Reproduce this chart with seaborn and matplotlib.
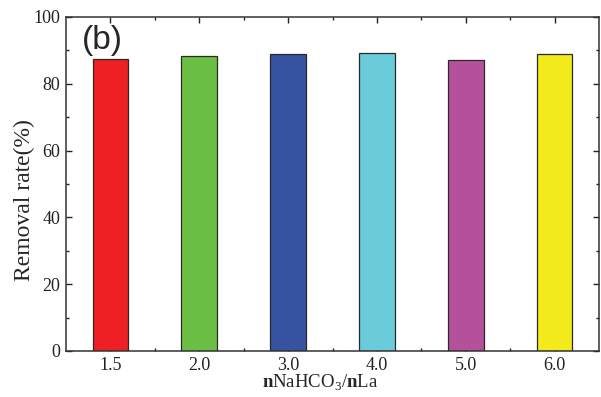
import pandas as pd
import matplotlib
matplotlib.use('Agg')
import matplotlib.pyplot as plt
import seaborn as sns
from matplotlib.ticker import MultipleLocator, FixedLocator

# data
ratios = ['1.5', '2.0', '3.0', '4.0', '5.0', '6.0']
removal = [87.4, 88.3, 89.0, 89.1, 87.2, 88.8]
colors = ['#EE2024', '#6CBF45', '#3752A1', '#6ACBDA', '#B5509B', '#F2EA1A']

sns.set_style('ticks')
plt.rcParams['font.family'] = ['Liberation Serif', 'DejaVu Serif']
plt.rcParams['mathtext.fontset'] = 'custom'
plt.rcParams['mathtext.rm'] = 'Liberation Serif'
plt.rcParams['mathtext.bf'] = 'Liberation Serif:bold'

df = pd.DataFrame({'ratio': ratios, 'removal': removal})

fig = plt.figure(figsize=(6.01, 3.97), dpi=100)
ax = fig.add_axes([0.1098, 0.1159, 0.887, 0.8413])

sns.barplot(data=df, x='ratio', y='removal', hue='ratio', palette=colors,
            width=0.4, edgecolor='#2a2a2a', linewidth=0.9, legend=False,
            saturation=1, ax=ax)

ax.set_xlim(-0.5, 5.5)
ax.set_ylim(0, 100)
ax.yaxis.set_major_locator(MultipleLocator(20))
ax.yaxis.set_minor_locator(MultipleLocator(10))
ax.xaxis.set_minor_locator(FixedLocator([0.5, 1.5, 2.5, 3.5, 4.5]))
ax.tick_params(which='both', direction='in', top=True, right=True,
               labelsize=13, colors='#222222', width=1)
ax.tick_params(which='major', length=4, pad=4)
ax.tick_params(which='minor', length=2.5)
for s in ax.spines.values():
    s.set_linewidth(1.1)
    s.set_color('#333333')
    s.set_visible(True)

ax.set_ylabel('Removal rate(%)', fontsize=17)
ax.yaxis.set_label_coords(-0.058, 0.452)
ax.set_xlabel(r'$\mathbf{n}\mathrm{NaHCO}_3/\mathbf{n}\mathrm{La}$', fontsize=13.5)
ax.xaxis.set_label_coords(0.477, -0.066)
ax.text(0.03, 0.975, '(b)', transform=ax.transAxes, fontsize=24,
        family='Liberation Sans', va='top', ha='left')

fig.savefig('out.png', dpi=100)
plt.close()
